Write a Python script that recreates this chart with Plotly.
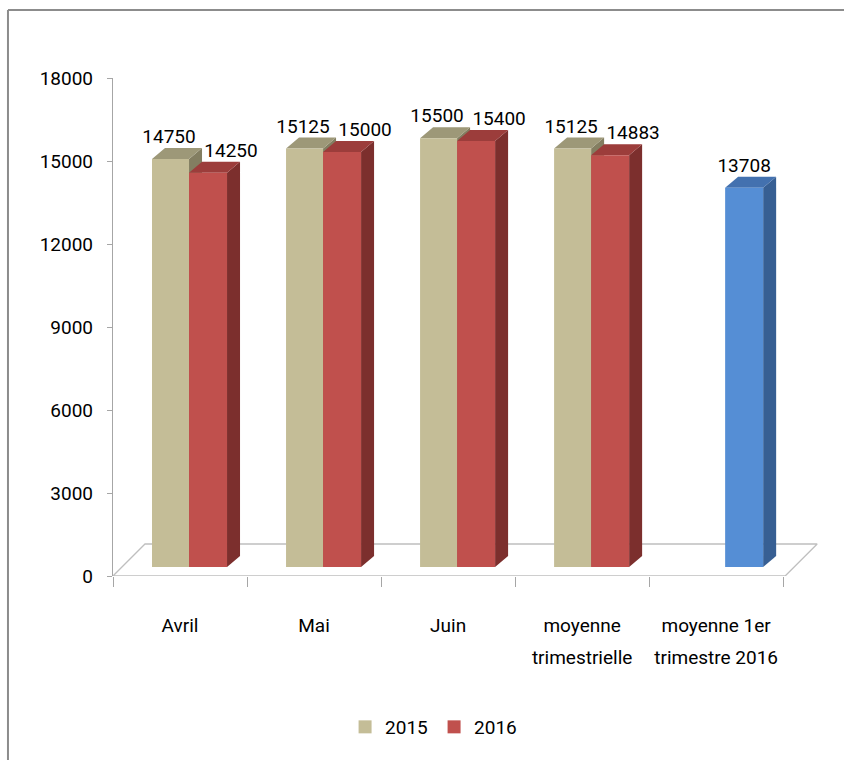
import plotly.graph_objects as go

# ---------------- data ----------------
categories = ["Avril", "Mai", "Juin", "moyenne<br>trimestrielle", "moyenne 1er<br>trimestre 2016"]
values_2015 = [14750, 15125, 15500, 15125, None]
values_2016 = [14250, 15000, 15400, 14883, 13708]
series_names = ["2015", "2016"]
y_tick_values = [0, 3000, 6000, 9000, 12000, 15000, 18000]

# ---------------- style ----------------
FONT = "Roboto, Liberation Sans, sans-serif"
FS = 19
PX = 134.0                      # pixels per category
UPX = 18000 / 498.0             # value units per pixel
BAR_L, BAR_M, BAR_R = -28 / PX, 9 / PX, 47 / PX
DX, DY = 13 / PX, 11 * UPX      # 3D depth of bars
LIFT = 9 * UPX                  # bars stand a little behind the floor's front edge
FLOOR_DX, FLOOR_DY = 32 / PX, 32 * UPX
X_MIN, X_MAX = -0.5, 4.76

COL = {
    "2015": ("#C4BD97", "#9D9878", "#837E61"),
    "2016": ("#C0504D", "#9C3D3B", "#7C2F2D"),
    "hl":   ("#558ED5", "#4371AF", "#375F93"),
}
HIGHLIGHT_2016 = 4   # the 2016 point drawn in blue

fig = go.Figure()

# floor
fl_front_r = 4.5 + 2 / PX
fig.add_trace(go.Scatter(
    x=[X_MIN, fl_front_r, fl_front_r + FLOOR_DX, X_MIN + FLOOR_DX, X_MIN],
    y=[0, 0, FLOOR_DY, FLOOR_DY, 0],
    mode="lines", line=dict(color="#BFBFBF", width=1.3), fill="toself",
    fillcolor="rgba(255,255,255,0)", showlegend=False, hoverinfo="skip"))


def add_bars(vals, x0off, x1off, colors, idxs):
    front, top, side = ([], []), ([], []), ([], [])
    for i in idxs:
        v = vals[i]
        if v is None:
            continue
        x0, x1 = i + x0off, i + x1off
        b, t = LIFT, v + LIFT
        side[0].extend([x1, x1 + DX, x1 + DX, x1, x1, None])
        side[1].extend([b, b + DY, t + DY, t, b, None])
        top[0].extend([x0, x1, x1 + DX, x0 + DX, x0, None])
        top[1].extend([t, t, t + DY, t + DY, t, None])
        front[0].extend([x0, x1, x1, x0, x0, None])
        front[1].extend([b, b, t, t, b, None])
    for (xs, ys), c in ((side, colors[2]), (top, colors[1]), (front, colors[0])):
        if xs:
            fig.add_trace(go.Scatter(x=xs, y=ys, mode="lines", line=dict(width=0, color=c),
                                     fill="toself", fillcolor=c, showlegend=False,
                                     hoverinfo="skip"))


n = len(categories)
add_bars(values_2015, BAR_L, BAR_M, COL["2015"], range(n))
add_bars(values_2016, BAR_M, BAR_R, COL["2016"], [i for i in range(n) if i != HIGHLIGHT_2016])
add_bars(values_2016, BAR_M, BAR_R, COL["hl"], [HIGHLIGHT_2016])

# data labels
lx, ly, lt = [], [], []
for i, v in enumerate(values_2015):
    if v is not None:
        lx.append(i - 11 / PX); ly.append(v + LIFT + DY); lt.append(str(v))
for i, v in enumerate(values_2016):
    if v is not None:
        off = 51 / PX if values_2015[i] is not None else 28 / PX
        lx.append(i + off); ly.append(v + LIFT + DY); lt.append(str(v))
fig.add_trace(go.Scatter(x=lx, y=ly, text=lt, mode="text", textposition="top center",
                         textfont=dict(family=FONT, size=FS, color="black"),
                         showlegend=False, hoverinfo="skip", cliponaxis=False))

# legend entries
for name in series_names:
    fig.add_trace(go.Scatter(x=[None], y=[None], mode="markers", name=name,
                             marker=dict(symbol="square", size=13, color=COL[name][0])))

# category labels: first line on the main x axis, second line on an overlaid axis
first_lines = [c.split("<br>")[0] for c in categories]
second_idx = [i for i, c in enumerate(categories) if "<br>" in c]
second_lines = [categories[i].split("<br>")[1] for i in second_idx]
fig.add_trace(go.Scatter(x=[None], y=[None], xaxis="x2", showlegend=False, hoverinfo="skip"))

L, T = 113, 78
FW, FH = 844, 760
W = (X_MAX - X_MIN) * PX
frame = dict(color="#8C8C8C", width=2)
fig.update_layout(
    width=FW, height=FH,
    margin=dict(l=L, r=FW - L - W, t=T, b=FH - T - 498),
    paper_bgcolor="white", plot_bgcolor="white",
    font=dict(family=FONT, size=FS, color="black"),
    showlegend=True,
    legend=dict(orientation="h", x=(434 - L) / W, y=(576 - 727) / 498,
                xanchor="center", yanchor="middle", font=dict(size=FS),
                itemwidth=30, entrywidth=44, traceorder="normal"),
    xaxis=dict(range=[X_MIN, X_MAX], tickvals=list(range(n)), ticktext=first_lines,
               ticks="", showline=False, showgrid=False, zeroline=False,
               ticklabelstandoff=36,
               minor=dict(tickvals=[k - 0.5 for k in range(n + 1)], ticks="outside",
                          ticklen=10, tickcolor="#A6A6A6", tickwidth=1.3, showgrid=False)),
    xaxis2=dict(range=[X_MIN, X_MAX], overlaying="x", anchor="y", side="bottom",
                tickvals=second_idx, ticktext=second_lines, ticks="", showline=False,
                showgrid=False, zeroline=False, ticklabelstandoff=68),
    yaxis=dict(range=[0, 18000], tickvals=y_tick_values, tickformat="d",
               showgrid=False, zeroline=False,
               showline=True, linecolor="#A6A6A6", linewidth=1.3, ticks="outside",
               ticklen=5, tickcolor="#A6A6A6", tickwidth=1.3, ticklabelstandoff=10),
    shapes=[
        dict(type="line", xref="paper", yref="paper",
             x0=(8 - L) / W, x1=(8 - L) / W, y0=(576 - 10) / 498, y1=(576 - 800) / 498,
             line=frame, layer="below"),
        dict(type="line", xref="paper", yref="paper",
             x0=(8 - L) / W, x1=(900 - L) / W, y0=(576 - 10) / 498, y1=(576 - 10) / 498,
             line=frame, layer="below"),
    ],
)

fig.write_html("out.html", config={"displayModeBar": False},
               post_script="document.body.style.margin='0';"
                           "document.documentElement.style.overflow='hidden';"
                           "document.body.style.overflow='hidden';")
